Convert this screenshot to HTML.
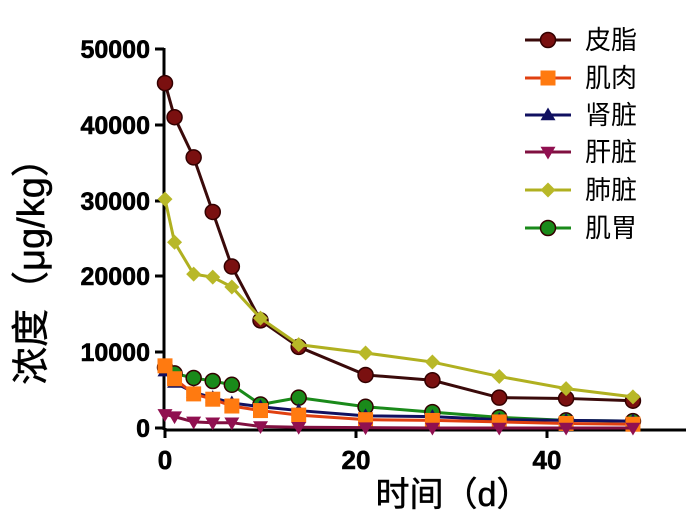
<!DOCTYPE html><html><head><meta charset="utf-8"><style>body{margin:0;background:#fff}</style></head><body>
<svg width="700" height="527" xmlns="http://www.w3.org/2000/svg" font-family="Liberation Sans, Noto Sans CJK SC, sans-serif">
<g stroke="#000" stroke-width="3" fill="none">
<path d="M164,48 V430 M164,430 H686"/>
<path d="M155,49 H164 M155,125 H164 M155,201 H164 M155,276 H164 M155,352 H164 M155,428 H164"/>
<path d="M165,428 V438 M356,428 V438 M547,428 V438"/>
</g>
<g font-weight="bold" font-size="25" text-anchor="end" fill="#000" stroke="#000" stroke-width="0.6">
<text x="150" y="58">50000</text><text x="150" y="134">40000</text><text x="150" y="210">30000</text><text x="150" y="285">20000</text><text x="150" y="361">10000</text><text x="150" y="437">0</text>
</g>
<g font-weight="bold" font-size="26" text-anchor="middle" stroke="#000" stroke-width="0.6"><text x="165" y="469">0</text><text x="356" y="469">20</text><text x="547" y="469">40</text></g>
<text x="453" y="506" font-size="34" text-anchor="middle" stroke="#000" stroke-width="0.5">时间（d）</text>
<text transform="translate(44,262) rotate(-90)" font-size="38" text-anchor="middle" stroke="#000" stroke-width="0.5">浓度（μg/kg）</text>
<g id="s"></g>
<g font-size="26" fill="#000"><text x="585" y="49">皮脂</text><text x="585" y="87">肌肉</text><text x="585" y="124">肾脏</text><text x="585" y="161">肝脏</text><text x="585" y="199">肺脏</text><text x="585" y="237">肌胃</text></g>
</svg>
<script>
const X=[0,1,3,5,7,10,14,21,28,35,42,49];
const px=d=>165+d*9.55, py=v=>428-v*0.00758;
const S=[
["#3a0a0a","#7a1010","c",[45500,41000,35700,28500,21300,14200,10700,7000,6300,4000,3900,3600]],
["#b0b020","#b8b828","d",[30200,24500,20300,19900,18600,14500,11000,9900,8700,6800,5200,4100]],
["#1a8a1a","#1a8a1a","c",[8000,7200,6600,6200,5700,3100,4000,2800,2100,1400,1000,900]],
["#101060","#101060","t",[7500,6000,4700,4000,3300,2800,2300,1600,1500,1100,1000,900]],
["#e04010","#ff7a10","s",[8200,6500,4500,3800,2900,2300,1700,1100,1000,800,600,500]],
["#801040","#901050","v",[1800,1500,800,700,700,200,100,50,0,0,0,0]]];
function mk(t,x,y,f,r){r=r||7.5;
 if(t=="c")return `<circle cx="${x}" cy="${y}" r="${r}" fill="${f}" stroke="#300" stroke-width="1.5"/>`;
 if(t=="d")return `<path d="M${x},${y-r} L${x+r},${y} L${x},${y+r} L${x-r},${y}Z" fill="${f}"/>`;
 if(t=="s")return `<rect x="${x-r}" y="${y-r}" width="${2*r}" height="${2*r}" fill="${f}"/>`;
 if(t=="t")return `<path d="M${x},${y-r} L${x+r},${y+r*0.7} L${x-r},${y+r*0.7}Z" fill="${f}"/>`;
 return `<path d="M${x},${y+r} L${x+r},${y-r*0.7} L${x-r},${y-r*0.7}Z" fill="${f}"/>`;}
let h="";
S.forEach(([c,f,t,v])=>{h+=`<polyline fill="none" stroke="${c}" stroke-width="3" points="${X.map((d,i)=>px(d)+","+py(v[i])).join(" ")}"/>`;
 X.forEach((d,i)=>h+=mk(t,px(d),py(v[i]),f));});
const L=[[0,40],[4,78],[3,115],[5,152],[1,190],[2,228]];
L.forEach(([i,y])=>{const [c,f,t]=S[i];h+=`<line x1="525" x2="571" y1="${y}" y2="${y}" stroke="${c}" stroke-width="3"/>`+mk(t,548,y,f);});
document.getElementById("s").innerHTML=h;
</script>
</body></html>
